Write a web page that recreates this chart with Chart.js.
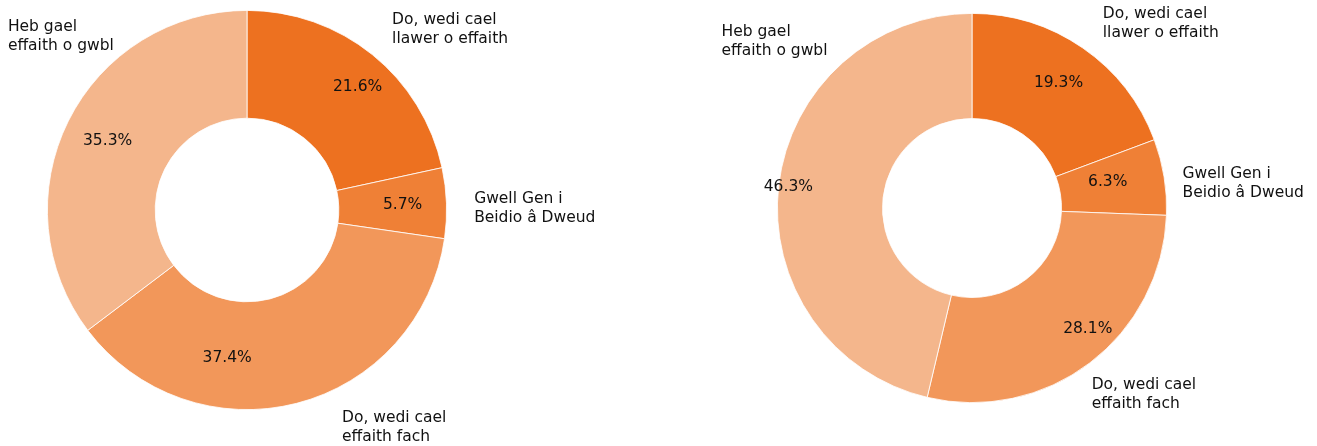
<!DOCTYPE html>
<html>
<head>
<meta charset="utf-8">
<script src="https://cdn.jsdelivr.net/npm/chart.js@4.4.1/dist/chart.umd.min.js"></script>
<style>
  html, body { margin: 0; padding: 0; background: #fff; }
  #wrap { position: relative; width: 1317px; height: 446px; }
  canvas { position: absolute; top: 0; }
  #left { left: 0; }
  #right { left: 658px; }
</style>
</head>
<body>
<div id="wrap">
  <canvas id="left" width="658" height="446"></canvas>
  <canvas id="right" width="659" height="446"></canvas>
</div>
<script>
// Data
const categories = [
  "Do, wedi cael\nllawer o effaith",
  "Gwell Gen i\nBeidio â Dweud",
  "Do, wedi cael\neffaith fach",
  "Heb gael\neffaith o gwbl"
];
const leftValues = [21.6, 5.7, 37.4, 35.3];
const rightValues = [19.3, 6.3, 28.1, 46.3];
const colors = ["#ED7120", "#EF8036", "#F2975A", "#F4B68C"];

// Label layout (offsets in units of outer radius, left-middle anchor)
const leftNameOffsets = [[0.727, -0.902], [1.138, -0.01], [0.476, 1.088], [-1.198, -0.867]];
const rightNameOffsets = [[0.672, -0.949], [1.082, -0.128], [0.615, 0.959], [-1.287, -0.856]];
// Percent labels: [radius factor, angle shift in degrees]
const leftPctPos = [[0.83, 3], [0.78, 0], [0.75, 22], [0.78, 0]];
const rightPctPos = [[0.78, 0], [0.71, -1.5], [0.86, -6.5], [0.95, 0]];

const FONT = "15.5px 'DejaVu Sans'";

const labelPlugin = {
  id: "pieLabels",
  afterDatasetsDraw(chart, args, opts) {
    const ctx = chart.ctx;
    const meta = chart.getDatasetMeta(0);
    const vals = chart.data.datasets[0].data;
    ctx.save();
    ctx.font = FONT;
    ctx.fillStyle = "#111111";
    ctx.textBaseline = "middle";
    meta.data.forEach((arc, i) => {
      const { x, y, outerRadius, startAngle, endAngle } = arc.getProps(["x", "y", "outerRadius", "startAngle", "endAngle"], true);
      // percentage
      const [rf, shift] = opts.pct[i];
      const mid = (startAngle + endAngle) / 2 + shift * Math.PI / 180;
      ctx.textAlign = "center";
      ctx.fillText(vals[i].toFixed(1) + "%", x + Math.cos(mid) * outerRadius * rf, y + Math.sin(mid) * outerRadius * rf);
      // category name
      const [ox, oy] = opts.names[i];
      const lines = chart.data.labels[i].split("\n");
      const lh = 19;
      const bx = x + ox * outerRadius;
      const by = y + oy * outerRadius - (lines.length - 1) * lh / 2;
      ctx.textAlign = "left";
      lines.forEach((ln, k) => ctx.fillText(ln, bx, by + k * lh));
    });
    ctx.restore();
  }
};

function makeChart(id, values, names, pct, padding) {
  return new Chart(document.getElementById(id), {
    type: "doughnut",
    data: {
      labels: categories,
      datasets: [{
        data: values,
        backgroundColor: colors,
        borderColor: "#ffffff",
        borderWidth: 0.8
      }]
    },
    options: {
      responsive: false,
      animation: false,
      cutout: "46%",
      layout: { padding: padding },
      plugins: {
        legend: { display: false },
        tooltip: { enabled: false },
        pieLabels: { names: names, pct: pct }
      }
    },
    plugins: [labelPlugin]
  });
}

makeChart("left", leftValues, leftNameOffsets, leftPctPos, { left: 47, right: 211, top: 10, bottom: 36 });
makeChart("right", rightValues, rightNameOffsets, rightPctPos, { left: 119, right: 150, top: 13, bottom: 43 });
</script>
</body>
</html>
